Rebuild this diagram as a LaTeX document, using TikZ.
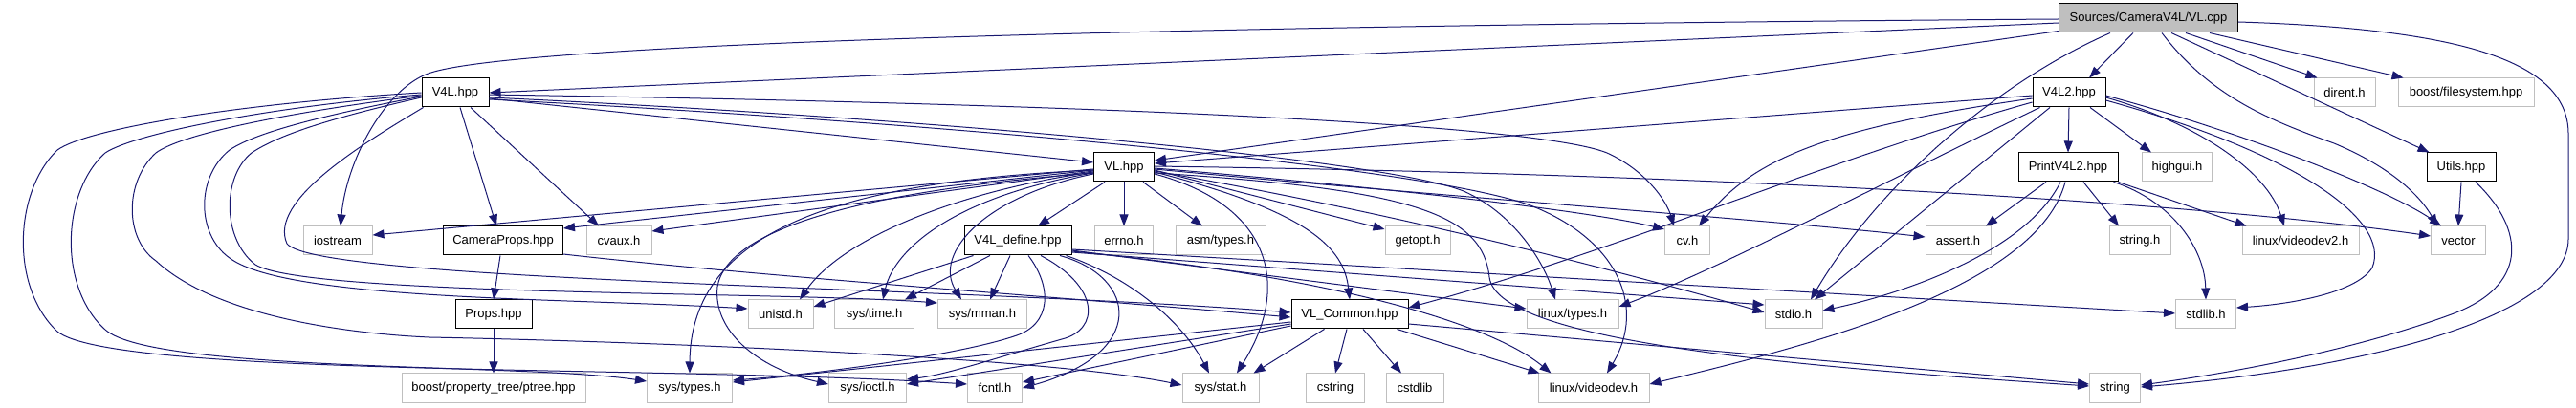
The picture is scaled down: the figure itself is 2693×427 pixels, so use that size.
\documentclass[tikz,border=0pt]{standalone}
\usepackage{fontspec}
\setmainfont{Liberation Sans}
\usetikzlibrary{arrows.meta,calc}
\definecolor{edgeblue}{HTML}{191970}
\definecolor{extgray}{HTML}{BFBFBF}
\tikzset{
  box/.style={rectangle, minimum height=30pt, inner xsep=2pt, inner ysep=0pt, line width=1pt, fill=white,
    font=\fontsize{13}{15}\selectfont},
  doc/.style={box, draw=black},
  ext/.style={box, draw=extgray},
  root/.style={box, draw=black, fill=extgray},
  e/.style={draw=edgeblue, line width=1pt, -{Triangle[length=12pt,width=9pt]}},
}
\begin{document}
\begin{tikzpicture}[x=1pt,y=-1pt]
\useasboundingbox (0,0) rectangle (2693,427);
% row 0
\node[root, minimum width=187pt] (vlcpp) at (2246,19) {Sources/CameraV4L/VL.cpp};
% row 1
\node[doc, minimum width=70pt] (v4l) at (476,97) {V4L.hpp};
\node[doc, minimum width=76pt] (v4l2) at (2163,97) {V4L2.hpp};
\node[ext, minimum width=64pt] (dirent) at (2451,97) {dirent.h};
\node[ext, minimum width=142pt] (bfs) at (2578,97) {boost/filesystem.hpp};
% row 2
\node[doc, minimum width=63pt] (vl) at (1175,175) {VL.hpp};
\node[doc, minimum width=104pt] (printv4l2) at (2162,175) {PrintV4L2.hpp};
\node[ext, minimum width=73pt] (highgui) at (2276,175) {highgui.h};
\node[doc, minimum width=72pt] (utils) at (2573,175) {Utils.hpp};
% row 3
\node[ext, minimum width=72pt] (iostream) at (353,252) {iostream};
\node[doc, minimum width=125pt] (camprops) at (526,252) {CameraProps.hpp};
\node[ext, minimum width=68pt] (cvaux) at (647,252) {cvaux.h};
\node[doc, minimum width=112pt] (v4ldef) at (1064,252) {V4L\_define.hpp};
\node[ext, minimum width=61pt] (errno) at (1175,252) {errno.h};
\node[ext, minimum width=94pt] (asmtypes) at (1276,252) {asm/types.h};
\node[ext, minimum width=68pt] (getopt) at (1482,252) {getopt.h};
\node[ext, minimum width=47pt] (cv) at (1764,252) {cv.h};
\node[ext, minimum width=68pt] (assert) at (2047,252) {assert.h};
\node[ext, minimum width=64pt] (stringh) at (2237,252) {string.h};
\node[ext, minimum width=122pt] (videodev2) at (2405,252) {linux/videodev2.h};
\node[ext, minimum width=57pt] (vector) at (2570,252) {vector};
% row 4
\node[doc, minimum width=80pt] (props) at (516,329) {Props.hpp};
\node[ext, minimum width=68pt] (unistd) at (816,329) {unistd.h};
\node[ext, minimum width=83pt] (systime) at (914,329) {sys/time.h};
\node[ext, minimum width=93pt] (sysmman) at (1027,329) {sys/mman.h};
\node[doc, minimum width=122pt] (vlcommon) at (1411,329) {VL\_Common.hpp};
\node[ext, minimum width=96pt] (linuxtypes) at (1644,329) {linux/types.h};
\node[ext, minimum width=60pt] (stdio) at (1875,329) {stdio.h};
\node[ext, minimum width=63pt] (stdlib) at (2306,329) {stdlib.h};
% row 5
\node[ext, minimum width=192pt] (ptree) at (516,406) {boost/property\_tree/ptree.hpp};
\node[ext, minimum width=89pt] (systypes) at (721,406) {sys/types.h};
\node[ext, minimum width=81pt] (sysioctl) at (907,406) {sys/ioctl.h};
\node[ext, minimum width=57pt] (fcntl) at (1040,406) {fcntl.h};
\node[ext, minimum width=80pt] (sysstat) at (1276,406) {sys/stat.h};
\node[ext, minimum width=61pt] (cstring) at (1396,406) {cstring};
\node[ext, minimum width=60pt] (cstdlib) at (1479,406) {cstdlib};
\node[ext, minimum width=116pt] (videodev) at (1666,406) {linux/videodev.h};
\node[ext, minimum width=53pt] (string) at (2211,406) {string};

% ---- VL.cpp
\draw[e] ($(vlcpp.west)+(0,1)$) .. controls (1200,27) and (520,46) .. (445,78) .. controls (400,97) and (362,170) .. ($(iostream.north)+(3,0)$);
\draw[e] ($(vlcpp.west)+(0,5)$) -- (v4l.east);
\draw[e] ($(vlcpp.south west)+(0,-2)$) -- ($(vl.east)+(0,-7)$);
\draw[e] ($(vlcpp.south)+(-16,0)$) -- ($(v4l2.north)+(21,0)$);
\draw[e] ($(vlcpp.south)+(-40,0)$) .. controls (2080,90) and (1960,200) .. ($(stdio.north)+(18,0)$);
\draw[e] ($(vlcpp.south)+(39,0)$) -- ($(dirent.north west)+(4,0)$);
\draw[e] ($(vlcpp.south)+(64,0)$) -- ($(bfs.north west)+(6,0)$);
\draw[e] ($(vlcpp.south)+(24,0)$) -- ($(utils.north west)+(3,0)$);
\draw[e] ($(vlcpp.south)+(14,0)$) .. controls (2310,100) and (2370,125) .. (2440,150) .. controls (2500,175) and (2530,205) .. ($(vector.north)+(-22,0)$);
\draw[e] ($(vlcpp.east)+(0,4)$) .. controls (2560,30) and (2685,60) .. (2685,140) -- (2685,250) .. controls (2685,330) and (2480,385) .. ($(string.east)+(0,-1)$);

% ---- V4L.hpp
\draw[e] ($(v4l.east)+(0,6)$) -- ($(vl.west)+(0,-5)$);
\draw[e] ($(v4l.east)+(0,2)$) .. controls (1100,108) and (1600,128) .. (1680,160) .. controls (1720,178) and (1742,210) .. ($(cv.north)+(-14,0)$);
\draw[e] ($(v4l.east)+(0,5)$) .. controls (1000,125) and (1450,168) .. (1530,200) .. controls (1580,222) and (1612,270) .. ($(linuxtypes.north)+(-18,0)$);
\draw[e] ($(v4l.east)+(0,7)$) .. controls (1050,132) and (1500,178) .. (1600,215) .. controls (1690,250) and (1722,320) .. ($(videodev.north)+(14,0)$);
\draw[e] ($(v4l.south)+(5,0)$) -- ($(camprops.north)+(-7,0)$);
\draw[e] ($(v4l.south)+(16,0)$) -- ($(cvaux.north)+(-21,0)$);
\draw[e] ($(v4l.west)+(0,0)$) .. controls (250,108) and (90,135) .. (60,157) .. controls (15,200) and (10,300) .. (60,347) .. controls (120,395) and (700,382) .. ($(fcntl.west)+(0,-4)$);
\draw[e] ($(v4l.west)+(0,2)$) .. controls (280,112) and (140,140) .. (110,160) .. controls (65,200) and (60,300) .. (110,345) .. controls (160,390) and (550,380) .. ($(systypes.west)+(0,-7)$);
\draw[e] ($(v4l.west)+(0,3)$) .. controls (300,118) and (190,140) .. (163,160) .. controls (130,190) and (130,250) .. (163,273) .. controls (230,335) and (380,350) .. (449,353) .. controls (700,358) and (1100,375) .. ($(sysstat.west)+(0,-3)$);
\draw[e] ($(v4l.west)+(0,4)$) .. controls (330,122) and (265,140) .. (240,157) .. controls (205,185) and (205,245) .. (240,270) .. controls (300,315) and (600,312) .. ($(unistd.west)+(0,-6)$);
\draw[e] ($(v4l.west)+(0,5)$) .. controls (340,125) and (290,142) .. (263,160) .. controls (232,185) and (232,250) .. (267,277) .. controls (320,310) and (820,305) .. ($(sysmman.west)+(0,-12)$);
\draw[e] ($(v4l.south west)+(2,0)$) .. controls (380,150) and (280,210) .. (300,255) .. controls (330,295) and (1000,300) .. ($(vlcommon.west)+(0,-2)$);

% ---- CameraProps / Props
\draw[e] ($(camprops.south)+(-3,0)$) -- (props.north);
\draw[e] (props.south) -- (ptree.north);
\draw[e] ($(camprops.east)+(0,14)$) .. controls (800,290) and (1100,310) .. ($(vlcommon.west)+(0,3)$);

% ---- VL.hpp
\draw[e] ($(vl.west)+(0,2)$) -- ($(iostream.east)+(0,-6)$);
\draw[e] ($(vl.west)+(0,3)$) -- ($(camprops.east)+(0,-13)$);
\draw[e] ($(vl.west)+(0,4)$) -- ($(cvaux.east)+(0,-10)$);
\draw[e] ($(vl.west)+(0,5)$) .. controls (1000,200) and (880,250) .. ($(unistd.north)+(20,0)$);
\draw[e] ($(vl.west)+(0,3)$) .. controls (880,190) and (722,240) .. (systypes.north);
\draw[e] ($(vl.west)+(0,6)$) .. controls (900,200) and (760,240) .. (750,300) .. controls (745,345) and (790,385) .. ($(sysioctl.west)+(0,-4)$);
\draw[e] ($(vl.west)+(0,6)$) .. controls (1000,205) and (935,260) .. ($(systime.north)+(9,0)$);
\draw[e] ($(vl.west)+(0,7)$) .. controls (1030,205) and (975,265) .. ($(sysmman.north)+(-22,0)$);
\draw[e] ($(vl.south)+(-20,0)$) -- ($(v4ldef.north)+(21,0)$);
\draw[e] (vl.south) -- (errno.north);
\draw[e] ($(vl.south)+(20,0)$) -- ($(asmtypes.north)+(-19,0)$);
\draw[e] ($(vl.east)+(0,7)$) .. controls (1330,215) and (1350,300) .. ($(sysstat.north)+(17,0)$);
\draw[e] ($(vl.east)+(0,-1)$) .. controls (1800,182) and (2300,212) .. ($(vector.west)+(0,-5)$);
\draw[e] ($(vl.east)+(0,1)$) .. controls (1400,192) and (1650,218) .. ($(cv.west)+(0,-12)$);
\draw[e] ($(vl.east)+(0,2)$) .. controls (1500,205) and (1850,230) .. ($(assert.west)+(0,-4)$);
\draw[e] ($(vl.east)+(0,3)$) -- ($(getopt.west)+(0,-12)$);
\draw[e] ($(vl.east)+(0,5)$) .. controls (1370,222) and (1405,260) .. (vlcommon.north);
\draw[e] ($(vl.east)+(0,4)$) .. controls (1500,230) and (1750,300) .. ($(stdio.west)+(0,-2)$);
\draw[e] ($(vl.east)+(0,6)$) .. controls (1480,198) and (1550,225) .. (1557,290) .. controls (1565,360) and (1900,385) .. ($(string.west)+(0,-2)$);

% ---- V4L_define.hpp
\draw[e] ($(v4ldef.south west)+(10,0)$) -- ($(unistd.east)+(0,-8)$);
\draw[e] ($(v4ldef.south)+(-29,0)$) -- ($(systime.north)+(32,0)$);
\draw[e] ($(v4ldef.south)+(-8,0)$) -- ($(sysmman.north)+(8,0)$);
\draw[e] ($(v4ldef.south)+(11,0)$) .. controls (1100,300) and (1100,340) .. (1060,352) .. controls (1000,372) and (850,392) .. ($(systypes.east)+(0,-8)$);
\draw[e] ($(v4ldef.south)+(24,0)$) .. controls (1150,300) and (1150,345) .. (1110,355) .. controls (1050,372) and (990,392) .. ($(sysioctl.east)+(0,-9)$);
\draw[e] ($(v4ldef.south)+(44,0)$) .. controls (1190,290) and (1200,370) .. (fcntl.east);
\draw[e] ($(v4ldef.south east)+(-6,0)$) .. controls (1180,290) and (1235,335) .. ($(sysstat.north)+(-12,0)$);
\draw[e] ($(v4ldef.east)+(0,10)$) -- ($(linuxtypes.west)+(0,-6)$);
\draw[e] ($(v4ldef.east)+(0,11)$) .. controls (1400,290) and (1560,340) .. ($(videodev.north west)+(14,0)$);
\draw[e] ($(v4ldef.east)+(0,12)$) -- ($(stdio.west)+(0,-10)$);
\draw[e] ($(v4ldef.east)+(0,9)$) -- ($(stdlib.west)+(0,-1)$);

% ---- VL_Common.hpp
\draw[e] ($(vlcommon.west)+(0,8)$) -- ($(systypes.east)+(0,-6)$);
\draw[e] ($(vlcommon.west)+(0,10)$) -- ($(sysioctl.east)+(0,-4)$);
\draw[e] ($(vlcommon.west)+(0,12)$) -- ($(fcntl.east)+(0,-6)$);
\draw[e] ($(vlcommon.south west)+(35,0)$) -- ($(sysstat.north east)+(-6,0)$);
\draw[e] ($(vlcommon.south)+(-3,0)$) -- (cstring.north);
\draw[e] ($(vlcommon.south)+(14,0)$) -- ($(cstdlib.north)+(-14,0)$);
\draw[e] ($(vlcommon.south east)+(-12,0)$) -- ($(videodev.north west)+(2,0)$);
\draw[e] ($(vlcommon.east)+(0,10)$) -- ($(string.west)+(0,-4)$);

% ---- V4L2.hpp
\draw[e] ($(v4l2.west)+(0,3)$) -- ($(vl.east)+(0,-4)$);
\draw[e] ($(v4l2.west)+(0,6)$) .. controls (1900,135) and (1830,170) .. ($(cv.north)+(12,0)$);
\draw[e] ($(v4l2.west)+(0,10)$) .. controls (1900,170) and (1700,260) .. ($(vlcommon.east)+(0,-7)$);
\draw[e] ($(v4l2.south west)+(8,0)$) .. controls (1950,200) and (1800,280) .. ($(linuxtypes.east)+(0,-8)$);
\draw[e] ($(v4l2.south)+(-20,0)$) -- ($(stdio.north)+(22,0)$);
\draw[e] (v4l2.south) -- (printv4l2.north);
\draw[e] ($(v4l2.south)+(22,0)$) -- ($(highgui.north west)+(10,0)$);
\draw[e] ($(v4l2.east)+(0,5)$) .. controls (2300,130) and (2370,180) .. ($(videodev2.north)+(-17,0)$);
\draw[e] ($(v4l2.east)+(0,3)$) .. controls (2350,140) and (2500,200) .. ($(vector.north)+(-18,0)$);
\draw[e] ($(v4l2.east)+(0,8)$) .. controls (2400,160) and (2500,230) .. (2480,280) .. controls (2465,305) and (2400,318) .. ($(stdlib.east)+(0,-7)$);

% ---- PrintV4L2.hpp
\draw[e] ($(printv4l2.south)+(-23,0)$) -- ($(assert.north)+(29,0)$);
\draw[e] ($(printv4l2.south)+(16,0)$) -- ($(stringh.north)+(-22,0)$);
\draw[e] ($(printv4l2.south)+(-8,0)$) .. controls (2120,260) and (2000,305) .. ($(stdio.east)+(0,-4)$);
\draw[e] ($(printv4l2.south)+(-3,0)$) .. controls (2130,300) and (1900,360) .. ($(videodev.east)+(0,-4)$);
\draw[e] (printv4l2.south east) -- ($(videodev2.north west)+(5,0)$);
\draw[e] ($(printv4l2.south east)+(-5,0)$) .. controls (2270,210) and (2305,260) .. (stdlib.north);

% ---- Utils.hpp
\draw[e] (utils.south) -- (vector.north);
\draw[e] ($(utils.south)+(15,0)$) .. controls (2640,240) and (2645,300) .. (2560,330) .. controls (2450,370) and (2320,392) .. ($(string.east)+(0,-3)$);
\end{tikzpicture}
\end{document}
